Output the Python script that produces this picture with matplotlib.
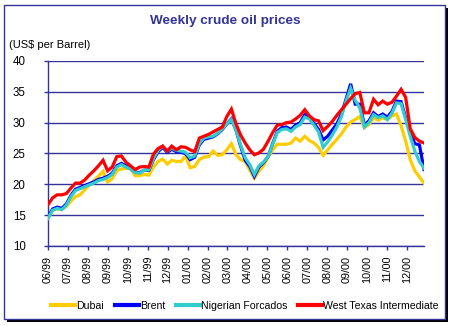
import matplotlib

matplotlib.use("Agg")
import matplotlib.pyplot as plt
from matplotlib.patches import Rectangle

plt.rcParams["font.family"] = ["Liberation Sans", "DejaVu Sans"]

# weekly prices, first week of June 1999 to end of December 2000
dubai = [
    14.5, 15.8, 16.0, 16.0, 16.4, 17.3, 18.0, 18.3, 19.1, 19.9,
    20.6, 21.3, 22.1, 20.4, 20.9, 22.2, 22.5, 22.6, 22.6, 21.4,
    21.4, 21.6, 21.5, 22.8, 23.7, 24.1, 23.3, 23.9, 23.7, 23.7,
    24.6, 22.7, 22.9, 24.0, 24.4, 24.5, 25.4, 24.7, 24.8, 25.6,
    26.6, 24.8, 24.0, 23.7, 22.3, 21.0, 22.1, 23.0, 24.4, 25.6,
    26.5, 26.5, 26.5, 26.7, 27.5, 27.0, 27.8, 27.1, 26.7, 26.0,
    24.7, 25.6, 26.5, 27.3, 28.2, 29.3, 30.1, 30.5, 31.0, 29.2,
    29.7, 30.8, 30.4, 30.8, 30.5, 31.1, 31.4, 29.5, 27.0, 24.0,
    22.2, 21.2, 20.2,
]
brent = [
    14.7, 16.0, 16.3, 16.1, 16.8, 18.2, 19.2, 19.5, 19.8, 20.1,
    20.4, 20.8, 21.0, 21.3, 21.8, 23.0, 23.4, 23.0, 22.5, 22.0,
    21.9, 22.3, 22.3, 24.0, 25.3, 26.0, 25.2, 25.7, 25.3, 25.2,
    25.0, 24.0, 24.4, 26.4, 27.3, 27.5, 27.7, 28.2, 28.9, 29.8,
    30.6, 28.8, 26.2, 23.9, 22.9, 21.3, 22.8, 23.5, 24.5, 26.6,
    28.6, 29.2, 29.3, 28.9, 29.6, 30.0, 31.3, 30.9, 29.9, 28.9,
    27.2, 27.8, 28.8, 29.8, 31.4, 33.8, 36.3, 33.0, 33.0, 29.6,
    30.3, 31.6, 31.0, 31.4, 30.9, 31.8, 33.5, 33.4, 30.8, 28.5,
    26.6, 26.4, 22.4,
]
nigerian = [
    14.5, 15.8, 16.1, 15.9, 16.6, 18.0, 19.0, 19.3, 19.6, 19.9,
    20.2, 20.6, 20.8, 21.1, 21.6, 22.8, 23.2, 22.8, 22.5, 21.9,
    21.8, 22.3, 22.4, 24.2, 25.5, 26.2, 25.4, 25.9, 25.5, 25.4,
    25.2, 24.3, 24.6, 26.6, 27.5, 27.7, 27.8, 28.3, 29.0, 29.8,
    30.5, 28.8, 26.4, 24.3, 23.2, 21.6, 23.0, 23.6, 24.5, 26.5,
    28.4, 28.9, 29.0, 28.6, 29.3, 29.7, 30.9, 30.6, 29.6, 28.5,
    26.0, 26.9, 28.0, 29.3, 31.0, 33.5, 35.6, 33.6, 32.4, 29.3,
    30.0, 31.3, 30.8, 31.1, 30.5, 31.5, 33.2, 33.1, 30.5, 27.8,
    25.4, 23.7, 22.6,
]
wti = [
    16.7, 17.8, 18.3, 18.3, 18.5, 19.4, 20.2, 20.2, 20.7, 21.5,
    22.2, 23.0, 23.9, 22.2, 22.8, 24.5, 24.6, 23.6, 23.0, 22.4,
    22.8, 22.9, 22.8, 24.9, 25.8, 26.2, 25.4, 26.2, 25.6, 26.1,
    26.0, 25.6, 25.3, 27.5, 27.8, 28.1, 28.5, 28.9, 29.3, 31.0,
    32.2, 29.8, 28.0, 26.7, 25.6, 24.8, 25.1, 25.7, 27.0, 28.4,
    29.6, 29.7, 30.0, 30.1, 30.6, 31.2, 32.1, 31.1, 30.5, 30.3,
    28.7, 29.4, 30.2, 31.2, 32.1, 33.0, 33.9, 34.7, 34.9, 31.6,
    31.6, 33.8, 32.9, 33.5, 33.0, 33.3, 34.3, 35.4, 34.1, 29.0,
    27.6, 27.0, 26.7,
]
months = [
    "06/99", "07/99", "08/99", "09/99", "10/99", "11/99", "12/99",
    "01/00", "02/00", "03/00", "04/00", "05/00", "06/00", "07/00",
    "08/00", "09/00", "10/00", "11/00", "12/00",
]
series = [
    ("Dubai", dubai, "#ffcc00"),
    ("Brent", brent, "#0000ff"),
    ("Nigerian Forcados", nigerian, "#33cccc"),
    ("West Texas Intermediate", wti, "#ff0000"),
]

NAVY = "#333399"
W, H = 450, 326

fig = plt.figure(figsize=(W / 100, H / 100), dpi=100)
fig.patch.set_facecolor("white")

# chart frame with a dark drop shadow, kept behind the axes
fig.patches.append(Rectangle((7 / W, 1 - 322 / H), 441 / W, 314 / H,
                             transform=fig.transFigure, facecolor="black",
                             edgecolor="none", zorder=-2))
fig.patches.append(Rectangle((4 / W, 1 - 319 / H), 441 / W, 314 / H,
                             transform=fig.transFigure, facecolor="white",
                             edgecolor=NAVY, linewidth=1.0, zorder=-1))

ax = fig.add_axes([48 / W, 1 - 246 / H, 376 / W, (246 - 61) / H])
ax.set_facecolor("none")

weeks = list(range(len(wti)))
for name, vals, color in series:
    ax.plot(weeks, vals, color=color, linewidth=2.3, label=name,
            solid_joinstyle="miter", zorder=3)

ax.set_xlim(0, 82)
ax.set_ylim(10, 40)
ax.set_yticks(range(10, 41, 5))
week_per_month = 365.25 / 12 / 7
ax.set_xticks([i * week_per_month for i in range(len(months))])
ax.set_xticklabels(months, rotation=90, fontsize=7.8)
ax.tick_params(axis="y", labelsize=8.3, length=3, width=1, color=NAVY, pad=13)
ax.tick_params(axis="x", length=3, width=1, color=NAVY, pad=4)
ax.yaxis.grid(True, color=NAVY, linewidth=1.0)
ax.set_axisbelow(True)
for side in ("top", "right"):
    ax.spines[side].set_visible(False)
for side in ("left", "bottom"):
    ax.spines[side].set_color(NAVY)
    ax.spines[side].set_linewidth(1.0)

fig.text(225 / W, 1 - 21 / H, "Weekly crude oil prices", ha="center",
         va="center", fontsize=9.7, fontweight="bold", color=NAVY)
fig.text(9 / W, 1 - 45 / H, "(US$ per Barrel)", ha="left", va="center",
         fontsize=8)

fig.legend(loc="center", bbox_to_anchor=(245 / W, 1 - 306 / H), ncol=4,
           frameon=False, fontsize=7.6, handlelength=2.3, handletextpad=0.1,
           columnspacing=1.0, borderaxespad=0)
for line in fig.legends[0].get_lines():
    line.set_linewidth(3)

fig.savefig("out.png", dpi=100)
